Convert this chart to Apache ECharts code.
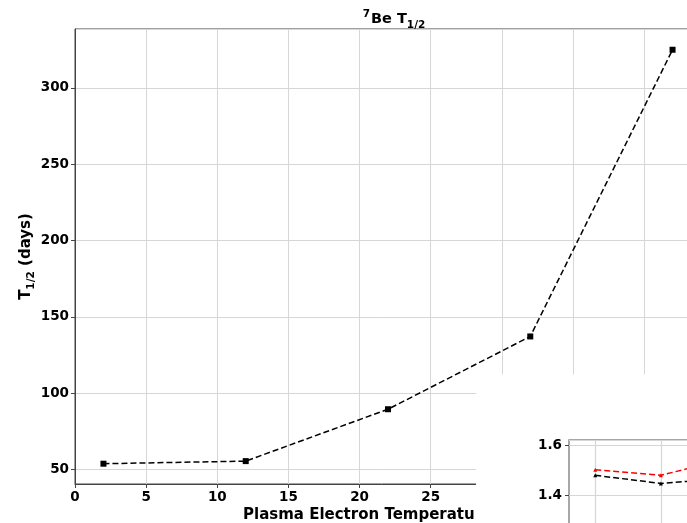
<!DOCTYPE html>
<html>
<head>
<meta charset="utf-8">
<script src="https://cdn.jsdelivr.net/npm/echarts@6/dist/echarts.min.js"></script>
<style>
html,body{margin:0;padding:0;background:#fff;}
#chart{width:687px;height:523px;}
</style>
</head>
<body>
<div id="chart"></div>
<script>
// Main panel data
const temps = [2, 12, 22, 32, 42];
const halfLife = [53.7, 55.4, 89.4, 137.1, 325.0];
// Inset data (only the visible part)
const insetX = [2, 12, 22];
const insetRed = [1.503, 1.481, 1.547];
const insetBlack = [1.481, 1.449, 1.469];

const FONT = 'DejaVu Sans';
const chart = echarts.init(document.getElementById('chart'), null, {renderer: 'canvas'});

const option = {
  animation: false,
  backgroundColor: '#fff',
  title: {
    text: '{sup|7}{t|Be T}{sub|1/2}',
    left: 389, top: 4, textAlign: 'center',
    textStyle: {
      rich: {
        t: {fontFamily: FONT, fontWeight: 'bold', fontSize: 14.5, color: '#000', lineHeight: 20},
        sup: {fontFamily: FONT, fontWeight: 'bold', fontSize: 10.5, color: '#000', verticalAlign: 'top', lineHeight: 20, padding: [0, 1, 0, 0]},
        sub: {fontFamily: FONT, fontWeight: 'bold', fontSize: 10.5, color: '#000', verticalAlign: 'bottom', lineHeight: 20, padding: [0, 0, -2, 0]}
      }
    }
  },
  grid: [
    {left: 75, top: 29, width: 626, height: 455, show: true, borderColor: '#444', borderWidth: 1, backgroundColor: 'transparent', outerBoundsMode: 'none', containLabel: false},
    {left: 569, top: 440, width: 315, height: 106, show: true, borderColor: '#8a8a8a', borderWidth: 1.5, backgroundColor: '#fff', z: 20, outerBoundsMode: 'none', containLabel: false}
  ],
  xAxis: [
    {
      type: 'value', gridIndex: 0, min: 0, max: 44, interval: 5,
      axisLine: {show: true, onZero: false, lineStyle: {color: '#444', width: 1}},
      axisTick: {show: true, length: 4, lineStyle: {color: '#444'}},
      axisLabel: {show: true, color: '#000', fontFamily: FONT, fontWeight: 'bold', fontSize: 13.5, margin: 6, showMaxLabel: false},
      splitLine: {show: true, lineStyle: {color: '#d6d6d6', width: 1}},
      name: 'Plasma Electron Temperature (eV)',
      nameLocation: 'middle', nameGap: 24, nameMoveOverlap: false,
      nameTextStyle: {color: '#000', fontFamily: FONT, fontWeight: 'bold', fontSize: 15}
    },
    {
      type: 'value', gridIndex: 1, min: -2, max: 46, z: 21,
      axisLine: {show: false, onZero: false}, axisTick: {show: false}, axisLabel: {show: false},
      splitLine: {show: false}
    }
  ],
  yAxis: [
    {
      type: 'value', gridIndex: 0, min: 40.4, max: 338.6, splitNumber: 5,
      axisLine: {show: true, onZero: false, lineStyle: {color: '#444', width: 1}},
      axisTick: {show: true, length: 4, lineStyle: {color: '#444'}},
      axisLabel: {show: true, color: '#000', fontFamily: FONT, fontWeight: 'bold', fontSize: 13.5, margin: 6, showMinLabel: false, showMaxLabel: false},
      splitLine: {show: true, lineStyle: {color: '#d6d6d6', width: 1}},
      name: '{b|T}{s|1/2}{b| (days)}',
      nameLocation: 'middle', nameGap: 40, nameRotate: 90, nameMoveOverlap: false,
      nameTextStyle: {
        rich: {
          b: {color: '#000', fontFamily: FONT, fontWeight: 'bold', fontSize: 15, lineHeight: 18},
          s: {color: '#000', fontFamily: FONT, fontWeight: 'bold', fontSize: 10.5, lineHeight: 18, verticalAlign: 'bottom', padding: [0, 0, -2, 0]}
        }
      }
    },
    {
      type: 'value', gridIndex: 1, min: 1.2, max: 1.6215, interval: 0.2, z: 21,
      axisLine: {show: false, onZero: false},
      axisTick: {show: true, length: 4, lineStyle: {color: '#444'}},
      axisLabel: {show: true, color: '#000', fontFamily: FONT, fontWeight: 'bold', fontSize: 13.5, margin: 7, showMinLabel: true, showMaxLabel: false},
      splitLine: {show: true, lineStyle: {color: '#d6d6d6', width: 1.2}}
    }
  ],
  graphic: {
    elements: [
      {type: 'rect', z: 10, zlevel: 0, shape: {x: 476, y: 374.5, width: 211, height: 149}, style: {fill: '#fff'}}
    ]
  },
  series: [
    {
      type: 'line', xAxisIndex: 0, yAxisIndex: 0,
      data: temps.map((t, i) => [t, halfLife[i]]),
      symbol: 'rect', symbolSize: 6,
      itemStyle: {color: '#000'},
      lineStyle: {color: '#000', width: 1.5, type: [6, 3]},
      z: 3
    },
    {
      type: 'line', xAxisIndex: 1, yAxisIndex: 1,
      data: insetX.map((t, i) => [t, insetBlack[i]]),
      symbol: 'triangle', symbolSize: 4,
      itemStyle: {color: '#000'},
      lineStyle: {color: '#000', width: 1.5, type: [6, 3]},
      z: 30,
      markLine: {
        silent: true, symbol: 'none', z: 22,
        label: {show: false},
        lineStyle: {color: '#d6d6d6', width: 1.2, type: 'solid'},
        data: insetX.map(t => ({xAxis: t}))
      }
    },
    {
      type: 'line', xAxisIndex: 1, yAxisIndex: 1,
      data: insetX.map((t, i) => [t, insetRed[i]]),
      symbol: 'triangle', symbolSize: 4,
      itemStyle: {color: '#ff0000'},
      lineStyle: {color: '#ff0000', width: 1.5, type: [6, 3]},
      z: 31
    }
  ]
};
chart.setOption(option);
</script>
</body>
</html>
